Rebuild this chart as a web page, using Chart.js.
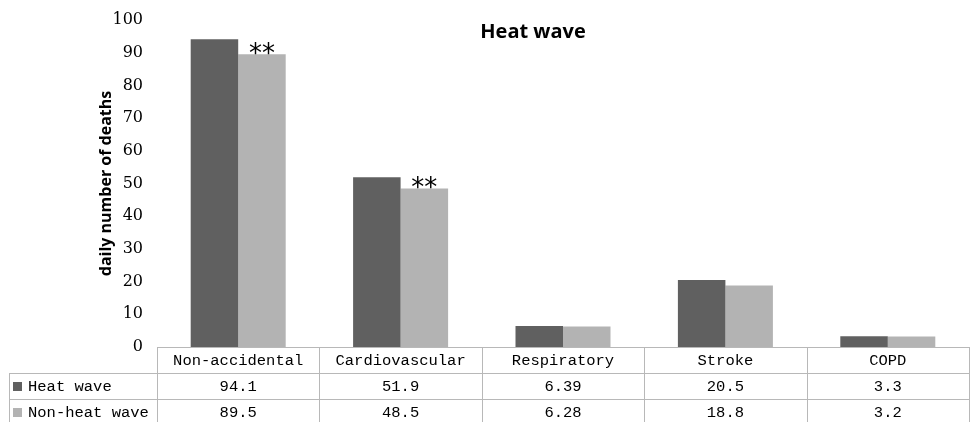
<!DOCTYPE html>
<html>
<head>
<meta charset="utf-8">
<script src="https://cdn.jsdelivr.net/npm/chart.js@4.4.1/dist/chart.umd.min.js"></script>
<style>
  html, body { margin: 0; padding: 0; background: #fff; }
  #wrap { width: 970px; height: 422px; position: relative; }
</style>
</head>
<body>
<div id="wrap"><canvas id="chart"></canvas></div>
<script>
// data
const categories = ['Non-accidental', 'Cardiovascular', 'Respiratory', 'Stroke', 'COPD'];
const heatWave = [94.1, 51.9, 6.39, 20.5, 3.3];
const nonHeatWave = [89.5, 48.5, 6.28, 18.8, 3.2];
const significance = [2, 2, 0, 0, 0];   // number of asterisks over the non-heat wave bars
const yTicks = [0, 10, 20, 30, 40, 50, 60, 70, 80, 90, 100];

const seriesNames = ['Heat wave', 'Non-heat wave'];
const seriesColors = ['#606060', '#b3b3b3'];
const lineColor = '#b8b8b8';
const tableFont = '15.5px "Liberation Mono", monospace';

const titlePlugin = {
    id: 'heatTitle',
    afterDraw(chart) {
        const ctx = chart.ctx;
        ctx.save();
        ctx.fillStyle = '#000';
        ctx.font = 'bold 20px "Open Sans", sans-serif';
        ctx.textAlign = 'center';
        ctx.textBaseline = 'alphabetic';
        ctx.fillText('Heat wave', 533, 38);
        ctx.restore();
    }
};

const starsPlugin = {
    id: 'stars',
    afterDatasetsDraw(chart) {
        const ctx = chart.ctx;
        const meta = chart.getDatasetMeta(1);
        ctx.save();
        ctx.fillStyle = '#000';
        ctx.font = '26px "DejaVu Sans", sans-serif';
        ctx.textAlign = 'center';
        ctx.textBaseline = 'alphabetic';
        meta.data.forEach((bar, i) => {
            const n = significance[i];
            for (let k = 0; k < n; k++) {
                const x = bar.x + (k - (n - 1) / 2) * 13;
                ctx.fillText('*', x, bar.y + 8);
            }
        });
        ctx.restore();
    }
};

const tablePlugin = {
    id: 'dataTable',
    afterDraw(chart) {
        const ctx = chart.ctx;
        const area = chart.chartArea;
        const xs = chart.scales.x;
        const rowH = 26;
        const tableLeft = 9;
        const catW = xs.getPixelForValue(1) - xs.getPixelForValue(0);
        const bottom = area.bottom;
        const h = chart.height;

        ctx.save();
        ctx.strokeStyle = lineColor;
        ctx.lineWidth = 1;
        ctx.beginPath();
        ctx.moveTo(area.left, bottom + 0.5);
        ctx.lineTo(area.right, bottom + 0.5);
        for (let r = 1; r <= 2; r++) {
            const y = Math.round(bottom + r * rowH) + 0.5;
            ctx.moveTo(tableLeft, y);
            ctx.lineTo(area.right, y);
        }
        for (let i = 0; i <= categories.length; i++) {
            const x = Math.round(xs.getPixelForValue(0) - catW / 2 + i * catW) + 0.5;
            ctx.moveTo(x, bottom);
            ctx.lineTo(x, h);
        }
        ctx.moveTo(tableLeft + 0.5, bottom + rowH);
        ctx.lineTo(tableLeft + 0.5, h);
        ctx.stroke();

        ctx.fillStyle = '#000';
        ctx.font = tableFont;
        ctx.textBaseline = 'middle';
        ctx.textAlign = 'center';
        categories.forEach((c, i) => {
            const x = xs.getPixelForValue(i);
            ctx.fillText(c, x, bottom + rowH / 2 + 1);
            ctx.fillText(String(heatWave[i]), x, bottom + rowH * 1.5 + 1);
            ctx.fillText(String(nonHeatWave[i]), x, bottom + rowH * 2.5 + 1);
        });

        ctx.textAlign = 'left';
        seriesNames.forEach((name, r) => {
            const yc = bottom + rowH * (1.5 + r) + 1;
            ctx.fillStyle = seriesColors[r];
            ctx.fillRect(13, Math.round(yc - 5), 9, 9);
            ctx.fillStyle = '#000';
            ctx.fillText(name, 28, yc);
        });
        ctx.restore();
    }
};

new Chart(document.getElementById('chart'), {
    type: 'bar',
    data: {
        labels: categories,
        datasets: [
            { label: seriesNames[0], data: heatWave, backgroundColor: seriesColors[0], borderWidth: 0 },
            { label: seriesNames[1], data: nonHeatWave, backgroundColor: seriesColors[1], borderWidth: 0 }
        ]
    },
    options: {
        responsive: true,
        maintainAspectRatio: false,
        animation: false,
        layout: { padding: { top: 20, bottom: 75, left: 0, right: 1 } },
        datasets: { bar: { categoryPercentage: 0.585, barPercentage: 1 } },
        plugins: {
            legend: { display: false },
            tooltip: { enabled: false },
            title: { display: false }
        },
        scales: {
            x: { display: false },
            y: {
                min: 0,
                max: 100,
                afterBuildTicks(scale) { scale.ticks = yTicks.map(v => ({ value: v })); },
                afterFit(scale) { scale.width = 157; },
                grid: { display: false },
                border: { display: false },
                ticks: {
                    padding: 6,
                    color: '#000',
                    font: { family: '"DejaVu Serif", serif', size: 16 }
                },
                title: {
                    display: true,
                    text: 'daily number of deaths',
                    color: '#000',
                    font: { family: '"Open Sans", sans-serif', size: 16, weight: 'bold' },
                    padding: { top: 97 }
                }
            }
        }
    },
    plugins: [titlePlugin, starsPlugin, tablePlugin]
});
</script>
</body>
</html>
